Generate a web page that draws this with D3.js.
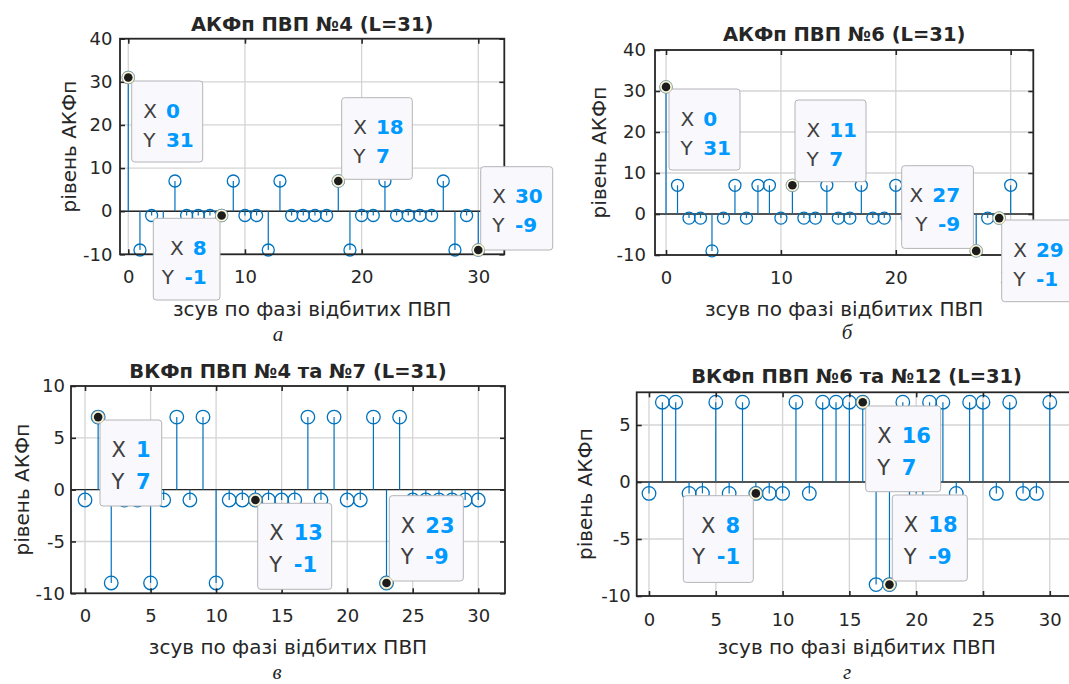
<!DOCTYPE html>
<html lang="uk">
<head>
<meta charset="utf-8">
<title>АКФп та ВКФп ПВП (L=31)</title>
<script src="https://cdn.jsdelivr.net/npm/d3@7"></script>
<style>
  body { margin: 0; background: #fff; }
  svg text { font-family: "DejaVu Sans", sans-serif; fill: #262626; }
</style>
</head>
<body>
<svg id="chart" width="1069" height="684"></svg>
<script>
// зсув (lag) 0..30
var lags = [0,1,2,3,4,5,6,7,8,9,10,11,12,13,14,15,16,17,18,19,20,21,22,23,24,25,26,27,28,29,30];

// АКФп ПВП №4
var acf4  = [31,-9,-1,-9,7,-1,-1,-1,-1,7,-1,-1,-9,7,-1,-1,-1,-1,7,-9,-1,-1,7,-1,-1,-1,-1,7,-9,-1,-9];
// АКФп ПВП №6
var acf6  = [31,7,-1,-1,-9,-1,7,-1,7,7,-1,7,-1,-1,7,-1,-1,7,-1,-1,7,-1,7,7,-1,7,-1,-9,-1,-1,7];
// ВКФп ПВП №4 та №7
var ccf47 = [-1,7,-9,-1,-1,-9,-1,7,-1,7,-9,-1,-1,-1,-1,-1,-1,7,-1,7,-1,-1,7,-9,7,-1,-1,-1,-1,-1,-1];
// ВКФп ПВП №6 та №12
var ccf612 = [-1,7,7,-1,-1,7,-1,7,-1,-1,-1,7,-1,7,7,7,7,-9,-9,7,-1,7,7,-1,7,7,-1,7,-1,-1,7];

var xTicks10 = [0,10,20,30];
var xTicks5  = [0,5,10,15,20,25,30];
var yTicksAcf = [-10,0,10,20,30,40];
var yTicksC   = [-10,-5,0,5,10];
var yTicksD   = [-10,-5,0,5];

// точки з підказками (datatips)
var tipsA = [0, 18, 30, 8];
var tipsB = [0, 11, 27, 29];
var tipsC = [1, 13, 23];
var tipsD = [16, 8, 18];

var xLabel = "зсув по фазі відбитих ПВП",
    yLabel = "рівень АКФп";

var svg = d3.select("#chart");

// розміщення панелей
var panels = [
  {values: acf4, title: "АКФп ПВП №4 (L=31)", letter: "а", tips: tipsA,
   xTicks: xTicks10, yTicks: yTicksAcf, xDomain: [-0.71, 32.23], yDomain: [-10, 40],
   left: 120, right: 504.3, top: 38.7, bottom: 254.3,
   titleY: 31, ylabX: 69, xlabY: 316, letterX: 278, letterY: 341, yPad: 7.5, xPad: 16, r: 6,
   fs: 20, row1: 36.5, row2: 65.5, valOff: 22.7,
   boxes: [[131.7,81,71,81,"l"], [341.7,97.7,70.6,81.6,"l"], [480.7,166.7,72,83.3,"l"], [153.3,218.3,66.7,81.7,"r"]]},
  {values: acf6, title: "АКФп ПВП №6 (L=31)", letter: "б", tips: tipsB,
   xTicks: xTicks10, yTicks: yTicksAcf, xDomain: [-0.96, 31.97], yDomain: [-10, 40],
   left: 655, right: 1033.3, top: 50, bottom: 255,
   titleY: 40.5, ylabX: 599, xlabY: 316, letterX: 847, letterY: 339, yPad: 9, xPad: 16.5, r: 6,
   fs: 20, row1: 36.5, row2: 65.5, valOff: 22.7,
   boxes: [[669,89,71,81,"l"], [795,100,71,81.7,"l"], [901.7,165.7,71.7,82.7,"r"], [1001.7,220,71,81.7,"l"]]},
  {values: ccf47, title: "ВКФп ПВП №4 та №7 (L=31)", letter: "в", tips: tipsC,
   xTicks: xTicks5, yTicks: yTicksC, xDomain: [-1.07, 32.04], yDomain: [-10, 10],
   left: 71, right: 505, top: 386, bottom: 593.3,
   titleY: 377.5, ylabX: 21.7, xlabY: 654, letterX: 277, letterY: 678.5, yPad: 6, xPad: 15.5, r: 6.8,
   fs: 21, row1: 37, row2: 68.5, valOff: 24.5,
   boxes: [[100,420,61.7,86,"l"], [257.7,503.3,74,86,"l"], [389.3,495.7,74,85.3,"l"]]},
  {values: ccf612, title: "ВКФп ПВП №6 та №12 (L=31)", letter: "г", tips: tipsD,
   xTicks: xTicks5, yTicks: yTicksD, xDomain: [-0.92, 32], yDomain: [-10, 7.87],
   left: 636.7, right: 1076.5, top: 392.3, bottom: 596,
   titleY: 382.5, ylabX: 585, xlabY: 654, letterX: 847, letterY: 678.5, yPad: 6, xPad: 17, r: 6.8,
   fs: 21, row1: 37, row2: 68.5, valOff: 24.5,
   boxes: [[865.7,406,75,85.7,"l"], [683.3,495.7,70,86.7,"r"], [892.3,495,75,86,"l"]]}
];

panels.forEach(drawPanel);

function drawPanel(p) {
  var x = d3.scaleLinear().domain(p.xDomain).range([p.left, p.right]),
      y = d3.scaleLinear().domain(p.yDomain).range([p.bottom, p.top]);

  var g = svg.append("g");

  // сітка
  g.append("g").selectAll("line").data(p.xTicks).join("line")
    .attr("x1", function (d) { return x(d); }).attr("x2", function (d) { return x(d); })
    .attr("y1", p.top).attr("y2", p.bottom)
    .attr("stroke", "#d4d4d4").attr("stroke-width", 1.3);
  g.append("g").selectAll("line").data(p.yTicks).join("line")
    .attr("x1", p.left).attr("x2", p.right)
    .attr("y1", function (d) { return y(d); }).attr("y2", function (d) { return y(d); })
    .attr("stroke", "#d4d4d4").attr("stroke-width", 1.3);

  // базова лінія
  g.append("line")
    .attr("x1", p.left).attr("x2", p.right).attr("y1", y(0)).attr("y2", y(0))
    .attr("stroke", "#262626").attr("stroke-width", 1.4);

  var pts = lags.map(function (k, i) { return {k: k, v: p.values[i]}; });

  g.append("g").selectAll("line").data(pts).join("line")
    .attr("x1", function (d) { return x(d.k); }).attr("x2", function (d) { return x(d.k); })
    .attr("y1", y(0)).attr("y2", function (d) { return y(d.v); })
    .attr("stroke", "#0072BD").attr("stroke-width", 1.2);
  g.append("g").selectAll("circle").data(pts).join("circle")
    .attr("cx", function (d) { return x(d.k); }).attr("cy", function (d) { return y(d.v); })
    .attr("r", p.r).attr("fill", "none")
    .attr("stroke", "#0072BD").attr("stroke-width", 1.3);

  // осі (мітки всередину, як у MATLAB)
  var fmt = function (d) { return String(d); };
  var axB = g.append("g").attr("transform", "translate(0," + p.bottom + ")")
    .call(d3.axisBottom(x).tickValues(p.xTicks).tickFormat(fmt).tickSizeInner(-5).tickSizeOuter(0).tickPadding(p.xPad));
  var axL = g.append("g").attr("transform", "translate(" + p.left + ",0)")
    .call(d3.axisLeft(y).tickValues(p.yTicks).tickFormat(fmt).tickSizeInner(-5).tickSizeOuter(0).tickPadding(p.yPad));
  var axT = g.append("g").attr("transform", "translate(0," + p.top + ")")
    .call(d3.axisTop(x).tickValues(p.xTicks).tickSizeInner(-5).tickSizeOuter(0).tickFormat(""));
  var axR = g.append("g").attr("transform", "translate(" + p.right + ",0)")
    .call(d3.axisRight(y).tickValues(p.yTicks).tickSizeInner(-5).tickSizeOuter(0).tickFormat(""));

  [axB, axL, axT, axR].forEach(function (a) {
    a.attr("font-family", null).attr("font-size", null).attr("color", "#262626");
    a.select(".domain").remove();
    a.selectAll(".tick line").attr("stroke-width", 1.6);
    a.selectAll(".tick text").style("font-size", "18px");
  });
  axB.selectAll(".tick text").attr("dy", "0.72em");

  g.append("rect")
    .attr("x", p.left).attr("y", p.top)
    .attr("width", p.right - p.left).attr("height", p.bottom - p.top)
    .attr("fill", "none").attr("stroke", "#262626").attr("stroke-width", 1.8);

  // підписи
  var cx = (p.left + p.right) / 2;
  g.append("text").attr("x", cx).attr("y", p.titleY)
    .attr("text-anchor", "middle").style("font-size", "19.5px").style("font-weight", "bold")
    .text(p.title);
  g.append("text").attr("x", cx).attr("y", p.xlabY)
    .attr("text-anchor", "middle").style("font-size", "20px").text(xLabel);
  g.append("text")
    .attr("transform", "translate(" + p.ylabX + "," + ((p.top + p.bottom) / 2) + ") rotate(-90)")
    .attr("text-anchor", "middle").attr("dy", "0.35em").style("font-size", "20px").text(yLabel);
  g.append("text").attr("x", p.letterX).attr("y", p.letterY)
    .attr("text-anchor", "middle")
    .style("font-family", "'Liberation Serif', serif").style("font-style", "italic")
    .style("font-size", "21px").text(p.letter);

  // підказки
  var tg = g.append("g");
  p.tips.forEach(function (k, i) {
    var b = p.boxes[i],
        v = p.values[lags.indexOf(k)];
    tg.append("rect")
      .attr("x", b[0]).attr("y", b[1]).attr("width", b[2]).attr("height", b[3])
      .attr("rx", 3).attr("fill", "#f9f9fd").attr("stroke", "#b4b4b8").attr("stroke-width", 1);
    var rows = [["X", String(k), p.row1], ["Y", String(v), p.row2]];
    rows.forEach(function (row) {
      var val = tg.append("text").attr("y", b[1] + row[2])
        .style("font-size", p.fs + "px").style("font-weight", "bold")
        .style("fill", "#0099ff").text(row[1]);
      var vx;
      if (b[4] === "r") {
        var w = val.node().getComputedTextLength();
        vx = b[0] + b[2] - 13.3 - w;
      } else {
        vx = b[0] + 11.5 + p.valOff;
      }
      val.attr("x", vx);
      tg.append("text").attr("x", vx - p.valOff).attr("y", b[1] + row[2])
        .style("font-size", p.fs + "px").style("fill", "#404040").text(row[0]);
    });
  });

  // маркери підказок
  g.append("g").selectAll("g").data(p.tips).join("g")
    .attr("transform", function (k) {
      return "translate(" + x(k) + "," + y(p.values[lags.indexOf(k)]) + ")";
    })
    .each(function () {
      var m = d3.select(this);
      m.append("circle").attr("r", 6.3).attr("fill", "#fbf8dc")
        .attr("stroke", "#9a9a88").attr("stroke-width", 0.6);
      m.append("circle").attr("r", 4.3).attr("fill", "#1c1c1c");
    });
}
</script>
</body>
</html>
